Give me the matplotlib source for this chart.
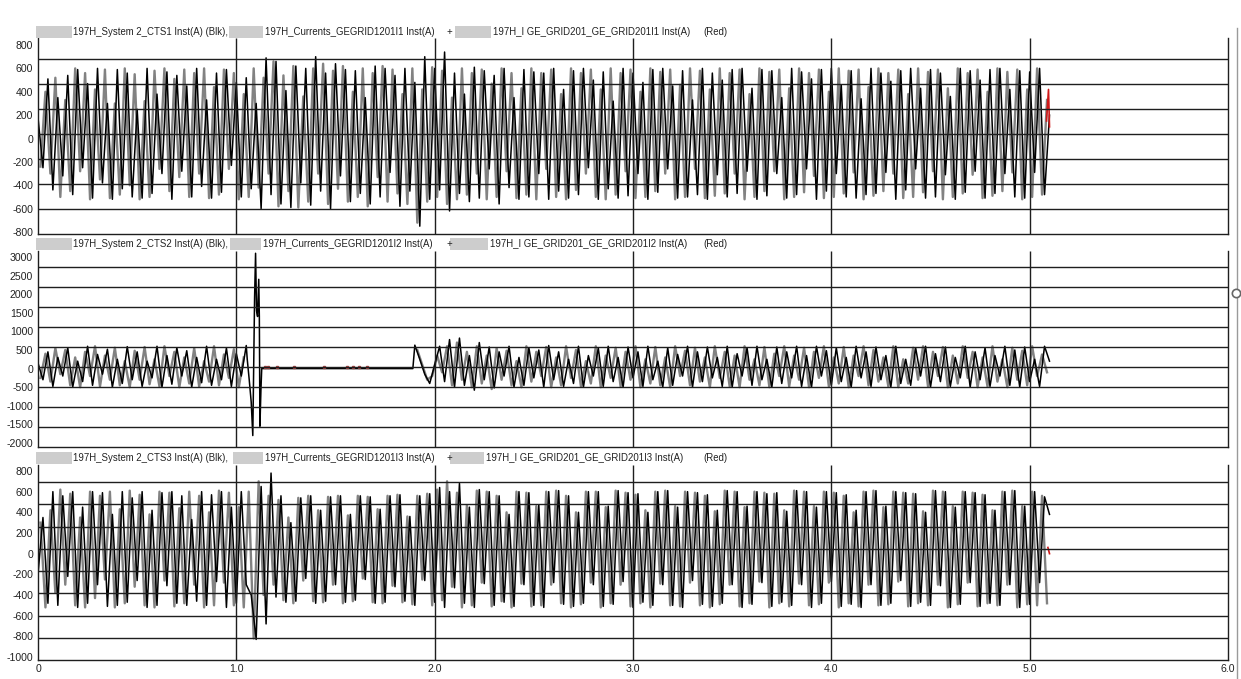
import numpy as np
import matplotlib.pyplot as plt
from matplotlib import font_manager
from matplotlib.lines import Line2D
from matplotlib.patches import Rectangle

W, H = 1241, 679
STEP = 0.025

# ---- panel 1 : CTS1 ----
p1_black = [
    180, -250, 510, -440, 350, -320, 540, -480, 590, -250, 470, -510, 600, -380, 300, -520,
    590, -430, 560, -500, 250, -510, 600, -470, 380, -300, 570, -520, 540, -280, 450, -500,
    600, -410, 330, -510, 560, -460, 590, -230, 480, -500, 520, -430, 300, -600, 690, -480,
    660, -560, 410, -590, 620, -380, 600, -570, 700, -450, 560, -600, 640, -320, 590, -540,
    580, -470, 350, -560, 620, -500, 600, -290, 540, -580, 600, -450, 480, -750, 700, -520,
    600, -440, 740, -620, 560, -470, 380, -540, 610, -510, 580, -260, 540, -560, 600, -420,
    350, -520, 590, -500, 570, -300, 560, -520, 600, -450, 420, -510, 580, -480, 600, -250,
    500, -520, 570, -430, 320, -510, 600, -490, 560, -300, 480, -520, 590, -460, 600, -260,
    450, -510, 580, -500, 330, -480, 600, -520, 560, -310, 500, -500, 590, -470, 600, -280,
    430, -520, 590, -490, 580, -300, 350, -510, 600, -480, 570, -260, 510, -520, 590, -450,
    600, -300, 460, -500, 580, -510, 340, -480, 600, -470, 560, -290, 490, -520, 580, -440,
    600, -260, 430, -510, 590, -500, 560, -310, 360, -520, 600, -460, 580, -280, 500, -510,
    590, -470, 600, -300, 420, -500, 580, -510, 570, -290, 600, -480, 200,
]
p1_grey = [
    -240, 400, -300, 520, -500, 330, -450, 600, -280, 560, -520, 420, -350, 590, -510, 300,
    -480, 600, -400, 550, -520, 320, -500, 580, -260, 600, -450, 510, -330, 590, -500, 560,
    -300, 600, -510, 440, -480, 590, -260, 560, -520, 380, -500, 600, -420, 520, -300, 660,
    -580, 540, -450, 620, -590, 360, -540, 600, -300, 640, -560, 580, -430, 620, -540, 400,
    -500, 600, -580, 560, -330, 620, -540, 590, -470, 380, -560, 600, -720, 420, -540, 610,
    -500, 580, -560, 350, -520, 600, -480, 560, -300, 590, -520, 470, -500, 600, -280, 560,
    -510, 430, -480, 600, -520, 560, -260, 590, -500, 380, -520, 600, -440, 560, -300, 590,
    -500, 420, -520, 600, -480, 560, -280, 590, -510, 400, -500, 600, -450, 570, -300, 590,
    -520, 460, -500, 600, -260, 580, -510, 420, -490, 600, -470, 560, -300, 590, -520, 380,
    -500, 600, -450, 570, -280, 590, -520, 430, -500, 600, -460, 560, -320, 590, -510, 400,
    -500, 600, -470, 580, -290, 590, -520, 440, -490, 600, -450, 560, -300, 590, -510, 380,
    -500, 600, -460, 570, -280, 590, -520, 430, -500, 600, -470, 560, -310, 590, -510, 400,
    -490, 600, -450, 570, -290, 590, -520, 420, -500, 600, -480, 330,
]
p1_red_t = [5.085, 5.095, 5.10]
p1_red_v = [150, 420, 100]

# ---- panel 2 : CTS2 ----
p2_black_pre = [
    150, -300, 450, -480, 300, -200, 560, -500, 200, -350, 600, -450, 380, -150, 520, -500,
    250, -400, 590, -300, 450, -480, 200, -250, 600, -500, 350, -420, 560, -200, 480, -500,
    300, -380, 600, -450, 250, -300, 550, -480, 400, -200, 620,
]
p2_grey_pre = [
    -250, 400, -350, 550, -150, 500, -450, 300, -500, 450, -200, 600, -480, 350, -300, 560,
    -450, 200, -500, 480, -300, 580, -420, 250, -480, 600, -200, 450, -500, 300, -400, 550,
    -480, 200, -350, 600, -450, 380, -250, 520, -500, 300,
]
# fault burst and dead interval (explicit time stamps)
p2_fault_t = [1.055, 1.065, 1.075, 1.083, 1.092, 1.097, 1.102, 1.107, 1.113, 1.116,
              1.119, 1.124, 1.128, 1.89]
p2_fault_v = [250, -300, -900, -1800, 1900, 3100, 1550, 1400, 2400, 1400,
              -1550, -580, 0, 0]
p2_black_post = [
    630, 250, -150, -400, 100, 600, -350, 780, -500, 820, -450, 350, -580, 700, -300, 580,
    -520, 450, -200, 600, -500, 300, -450, 560, -250, 500, -500, 620, -300, 450, -480, 250,
    -400, 600, -500, 350, -200, 550, -480, 600, -350, 300, -500, 580, -250, 450, -480, 600,
    -300, 200, -500, 560, -450, 380, -200, 600, -500, 450, -350, 580, -250, 300, -480, 600,
    -500, 400, -200, 560, -450, 600, -300, 250, -500, 580, -400, 450, -250, 600, -480, 350,
    -500, 600, -200, 480, -450, 560, -350, 300, -500, 600, -250, 450, -480, 580, -300, 350,
    -500, 600, -400, 250, -450, 560, -200, 600, -500, 400, -350, 580, -480, 300, -250, 600,
    -500, 450, -300, 560, -480, 350, -200, 600, -450, 500, -500, 580, -350, 250, -480, 600,
    200,
]
p2_grey_post = [
    500, 100, -300, -200, 350, -100, 600, -450, 700, -300, 450, -500, 600, -400, 350, -550,
    550, -300, 480, -450, 200, -500, 600, -350, 450, -200, 580, -500, 300, -450, 600, -250,
    500, -480, 200, -400, 600, -500, 350, -250, 560, -480, 450, -300, 600, -500, 250, -400,
    580, -450, 300, -500, 600, -200, 480, -450, 560, -350, 300, -500, 600, -250, 450, -480,
    350, -500, 600, -300, 250, -450, 580, -500, 400, -200, 600, -480, 350, -300, 560, -500,
    450, -250, 600, -480, 300, -400, 580, -500, 350, -200, 600, -450, 500, -350, 300, -480,
    600, -500, 250, -400, 560, -300, 600, -480, 450, -200, 580, -500, 350, -400, 600, -250,
    450, -500, 300, -480, 600, -350, 250, -500, 560, -300, 480, -450, 600, -200, 380, -100,
]
p2_red_t = [1.145, 1.16, 1.205, 1.29, 1.44, 1.56, 1.59, 1.62, 1.66]
p2_red_v = [40, 40, 40, 40, 40, 40, 40, 40, 40]

# ---- panel 3 : CTS3 ----
p3_black = [
    -200, 350, -480, 600, -500, 560, -220, 600, -520, 450, -480, 600, -300, 590, -510, 380,
    -500, 600, -470, 540, -260, 600, -520, 420, -500, 590, -310, 600, -480, 560, -500, 330,
    -460, 600, -500, 570, -270, 600, -520, 450, -480, 600, -300, -400, -830, 650, -680, 780,
    -420, 560, -470, 300, -460, 540, -240, 560, -480, 420, -460, 550, -300, 560, -470, 380,
    -450, 560, -250, 550, -480, 430, -470, 560, -320, 570, -460, 360, -500, 560, -260, 580,
    -470, 640, -520, 600, -330, 680, -480, 450, -520, 620, -290, 600, -500, 560, -470, 380,
    -510, 600, -300, 590, -500, 470, -520, 600, -280, 610, -490, 560, -510, 400, -480, 600,
    -300, 600, -510, 460, -490, 610, -270, 590, -520, 580, -470, 400, -500, 600, -300, 610,
    -500, 450, -520, 600, -260, 590, -490, 570, -510, 420, -480, 610, -300, 600, -520, 460,
    -490, 600, -280, 580, -510, 590, -470, 410, -500, 610, -300, 600, -520, 450, -480, 600,
    -270, 590, -510, 570, -490, 420, -520, 600, -300, 610, -500, 460, -480, 600, -260, 590,
    -510, 580, -470, 400, -500, 610, -310, 600, -520, 450, -490, 600, -280, 590, -510, 570,
    -480, 420, -500, 600, -300, 610, -520, 460, -490, 600, -280, 550, 380,
]
p3_grey = [
    300, -520, 420, -380, 620, -300, 580, -500, 350, -520, 600, -430, 560, -250, 600, -520,
    430, -480, 610, -320, 570, -500, 380, -520, 600, -260, 590, -510, 440, -480, 600, -300,
    560, -520, 400, -500, 610, -280, 590, -500, 450, -520, 600, -820, 700, -400, 560, -300,
    520, -450, 350, -480, 540, -260, 560, -460, 420, -470, 550, -300, 560, -480, 370, -460,
    560, -240, 550, -470, 430, -480, 560, -310, 570, -470, 360, -490, 560, -250, 580, -500,
    620, -450, 700, -320, 590, -520, 470, -500, 610, -280, 600, -510, 560, -460, 400, -520,
    600, -290, 590, -510, 460, -500, 600, -300, 610, -480, 560, -520, 400, -490, 600, -280,
    600, -520, 450, -480, 610, -300, 590, -510, 570, -480, 420, -520, 600, -290, 610, -500,
    460, -510, 600, -280, 590, -500, 560, -520, 410, -490, 610, -300, 600, -510, 450, -480,
    600, -270, 590, -520, 580, -480, 420, -510, 610, -290, 600, -500, 460, -490, 600, -280,
    590, -520, 560, -480, 400, -510, 600, -300, 610, -500, 450, -490, 600, -270, 590, -510,
    580, -480, 410, -500, 610, -300, 600, -520, 460, -490, 600, -280, 590, -510, 570, -480,
    420, -500, 600, -300, 610, -520, 460, -490, 600, -500, 560, -480,
]
p3_red_t = [5.092, 5.10]
p3_red_v = [60, 0]

titles = [
    ("197H_System 2_CTS1 Inst(A) (Blk),", "197H_Currents_GEGRID1201I1 Inst(A)",
     "197H_I GE_GRID201_GE_GRID201I1 Inst(A)"),
    ("197H_System 2_CTS2 Inst(A) (Blk),", "197H_Currents_GEGRID1201I2 Inst(A)",
     "197H_I GE_GRID201_GE_GRID201I2 Inst(A)"),
    ("197H_System 2_CTS3 Inst(A) (Blk),", "197H_Currents_GEGRID1201I3 Inst(A)",
     "197H_I GE_GRID201_GE_GRID201I3 Inst(A)"),
]
yticks = [
    [800, 600, 400, 200, 0, -200, -400, -600, -800],
    [3000, 2500, 2000, 1500, 1000, 500, 0, -500, -1000, -1500, -2000],
    [800, 600, 400, 200, 0, -200, -400, -600, -800, -1000],
]
xticks = [0, 1, 2, 3, 4, 5, 6]
xlabels = ["0", "1.0", "2.0", "3.0", "4.0", "5.0", "6.0"]

# layout (pixels) and the odd grid placement of the recorder view
panel_px = [(38, 234), (251, 447), (465, 660)]
ylims = [(-817, 860), (-2108, 3161), (-1029, 858)]
hgrid = [
    [680, 466, 253, 39, -175, -389, -603],
    [2731, 2194, 1656, 1118, 581, 43, -495, -1032, -1570],
    [694, 481, 258, 45, -168, -381, -604, -817],
]
title_y = [32, 244, 458]
blur_boxes = [
    [(36, 72), (229, 263), (455, 491)],
    [(36, 72), (230, 261), (450, 488)],
    [(36, 72), (233, 263), (450, 484)],
]

names = {f.name for f in font_manager.fontManager.ttflist}
if "Liberation Sans Narrow" in names:
    FONT, FS, TFS = "Liberation Sans Narrow", 9, 9
else:
    FONT, FS, TFS = "Liberation Sans", 7.6, 6.9
plt.rcParams["font.family"] = FONT


def grid_t(n, start=0.0):
    return start + np.arange(n) * STEP


def fx(px):
    return px / W


def fy(py):
    return 1 - py / H


fig = plt.figure(figsize=(W / 100, H / 100), dpi=100)

traces = [
    [(grid_t(len(p1_grey), STEP / 2), p1_grey, "grey"),
     (grid_t(len(p1_black)), p1_black, "black"),
     (p1_red_t, p1_red_v, "red")],
    [(grid_t(len(p2_grey_pre), STEP / 2), p2_grey_pre, "grey"),
     (grid_t(len(p2_grey_post), 1.9 + STEP / 2), p2_grey_post, "grey"),
     (np.concatenate([grid_t(len(p2_black_pre)), p2_fault_t, grid_t(len(p2_black_post), 1.9)]),
      p2_black_pre + p2_fault_v + p2_black_post, "black"),
     (p2_red_t, p2_red_v, "reddots")],
    [(grid_t(len(p3_grey), STEP / 2), p3_grey, "grey"),
     (grid_t(len(p3_black)), p3_black, "black"),
     (p3_red_t, p3_red_v, "red")],
]

for k in range(3):
    top, bot = panel_px[k]
    ax = fig.add_axes([fx(38), fy(bot), fx(1228 - 38), (bot - top) / H])
    ax.set_xlim(0, 6)
    ax.set_ylim(*ylims[k])

    for t, v, kind in traces[k]:
        if kind == "grey":
            ax.plot(t, v, color="#828282", lw=1.7, zorder=2)
        elif kind == "black":
            ax.plot(t, v, color="black", lw=1.1, zorder=3)
        elif kind == "red":
            ax.plot(t, v, color="#d01818", lw=1.2, zorder=4)
        else:
            ax.plot(t, v, ls="none", marker="s", ms=1.6, color="#a04040", zorder=4)

    ax.hlines(hgrid[k], 0, 6, color="#1e1e1e", lw=1.0, zorder=5)
    ax.vlines([1, 2, 3, 4, 5], *ylims[k], color="#1e1e1e", lw=1.0, zorder=5)

    ax.spines["top"].set_visible(False)
    for s in ("left", "right", "bottom"):
        ax.spines[s].set_color("#1e1e1e")
        ax.spines[s].set_linewidth(1.0)
        ax.spines[s].set_zorder(6)

    ax.set_yticks(yticks[k])
    ax.set_yticklabels([str(v) for v in yticks[k]], fontsize=FS, color="#222222")
    ax.tick_params(axis="y", length=0, pad=3.6)
    ax.set_xticks(xticks)
    if k == 2:
        ax.set_xticklabels(xlabels, fontsize=FS, color="#222222")
        ax.tick_params(axis="x", length=0, pad=3)
    else:
        ax.set_xticklabels([])
        ax.tick_params(axis="x", length=0)

    # anonymised (blurred) name blocks and the trace legend line
    yc = title_y[k]
    for x0, x1 in blur_boxes[k]:
        fig.add_artist(Rectangle((fx(x0), fy(yc + 6)), fx(x1 - x0), 12 / H,
                                 transform=fig.transFigure, facecolor="#cdcdcd",
                                 edgecolor="none"))
    a, b, c = titles[k]
    kw = dict(fontsize=TFS, va="center", ha="left", color="#222222")
    fig.text(fx(73), fy(yc), a, **kw)
    fig.text(fx(blur_boxes[k][1][1] + 2), fy(yc), b, **kw)
    fig.text(fx(446), fy(yc), "+", **kw)
    fig.text(fx(blur_boxes[k][2][1] + 2), fy(yc), c, **kw)
    fig.text(fx(703), fy(yc), "(Red)", **kw)

# scroll bar edge at the right of the window
fig.add_artist(Line2D([fx(1237), fx(1237)], [fy(28), 0], transform=fig.transFigure,
                      color="#9a9a9a", lw=1.0))
fig.add_artist(Line2D([fx(1236)], [fy(293)], transform=fig.transFigure, marker="o",
                      ms=6, mfc="white", mec="#666666", mew=1.2))

fig.savefig("out.png", dpi=100)
